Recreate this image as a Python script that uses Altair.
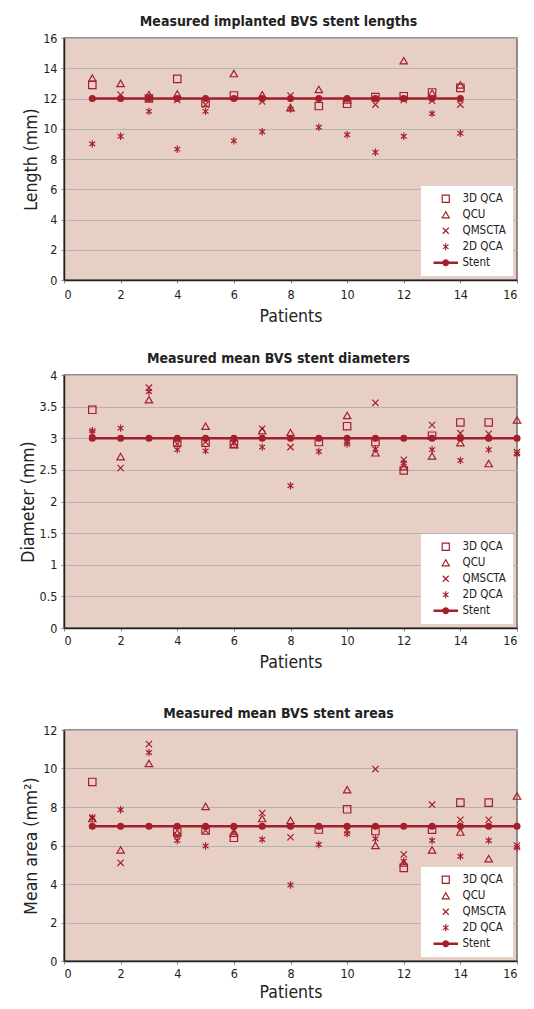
import altair as alt
import pandas as pd

RED = "#A41E2B"
BG = "#E8CFC6"
GRID = "#B3B3B3"
FONT = "Liberation Sans Narrow, DejaVu Sans Condensed, Roboto Condensed, Arial Narrow, sans-serif"

series_names = ["3D QCA", "QCU", "QMSCTA", "2D QCA"]
legend_order = ["3D QCA", "QCU", "QMSCTA", "2D QCA", "Stent"]

# ---- Panel 1: lengths (patients 1-14) ----
len_patients = [1, 2, 3, 4, 5, 6, 7, 8, 9, 10, 11, 12, 13, 14]
len_3dqca = [12.9, None, 12.0, 13.3, 11.7, 12.2, None, None, 11.5, 11.65, 12.1, 12.15, 12.4, 12.7]
len_qcu = [13.35, 13.0, 12.25, 12.3, None, 13.65, 12.25, 11.4, 12.6, 11.9, None, 14.5, 12.35, 12.9]
len_qmscta = [None, 12.25, None, 11.9, 11.6, None, 11.8, 12.2, None, None, 11.6, 11.9, 11.85, 11.6]
len_2dqca = [9.0, 9.5, 11.15, 8.65, 11.15, 9.2, 9.8, 11.3, 10.1, 9.6, 8.45, 9.5, 11.0, 9.7]
len_stent = [12, 12, 12, 12, 12, 12, 12, 12, 12, 12, 12, 12, 12, 12]

# ---- Panel 2: diameters (patients 1-16) ----
dia_patients = [1, 2, 3, 4, 5, 6, 7, 8, 9, 10, 11, 12, 13, 14, 15, 16]
dia_3dqca = [3.45, None, None, 2.93, 2.93, 2.91, None, None, 2.94, 3.19, 2.94, 2.49, 3.04, 3.25, 3.25, None]
dia_qcu = [None, 2.71, 3.61, None, 3.19, 2.9, 3.12, 3.09, None, 3.36, 2.77, 2.55, 2.72, 2.93, 2.6, 3.29]
dia_qmscta = [3.08, 2.53, 3.8, 2.91, 2.94, None, 3.15, 2.86, None, 2.95, 3.56, 2.66, 3.21, 3.08, 3.07, 2.78]
dia_2dqca = [3.12, 3.16, 3.74, 2.82, 2.8, 2.93, 2.86, 2.25, 2.79, 2.91, 2.83, 2.61, 2.82, 2.65, 2.82, 2.75]
dia_stent = [3, 3, 3, 3, 3, 3, 3, 3, 3, 3, 3, 3, 3, 3, 3, 3]

# ---- Panel 3: areas (patients 1-16) ----
area_patients = [1, 2, 3, 4, 5, 6, 7, 8, 9, 10, 11, 12, 13, 14, 15, 16]
area_3dqca = [9.3, None, None, 6.7, 6.78, 6.4, None, None, 6.83, 7.88, 6.75, 4.84, 6.82, 8.23, 8.23, None]
area_qcu = [7.4, 5.77, 10.26, 6.65, 8.03, 6.64, 7.4, 7.3, None, 8.9, 6.0, 5.1, 5.77, 6.7, 5.32, 8.57]
area_qmscta = [7.45, 5.1, 11.27, 6.52, 6.78, None, 7.69, 6.43, None, 6.78, 9.97, 5.53, 8.12, 7.34, 7.34, 6.0]
area_2dqca = [7.43, 7.86, 10.83, 6.26, 5.97, 6.78, 6.31, 3.95, 6.05, 6.61, 6.35, 5.18, 6.26, 5.44, 6.26, 5.9]
area_stent = [7, 7, 7, 7, 7, 7, 7, 7, 7, 7, 7, 7, 7, 7, 7, 7]

x_ticks = [0, 2, 4, 6, 8, 10, 12, 14, 16]

X_PATH = "M-0.85,-0.85L0.85,0.85M-0.85,0.85L0.85,-0.85"
AST_PATH = "M0,-1L0,1M-0.8,-0.6L0.8,0.6M-0.8,0.6L0.8,-0.6"
STENT_PATH = ("M-3.3,-0.18H3.3V0.18H-3.3Z"
              "M0.8,0A0.8,0.8,0,1,1,-0.8,0A0.8,0.8,0,1,1,0.8,0Z")
shape_range = ["square", "triangle-up", X_PATH, AST_PATH, STENT_PATH]
fill_range = ["transparent", "transparent", "transparent", "transparent", RED]
stroke_range = [RED, RED, RED, RED, RED]


def panel(title, patients, cols, stent, ytitle, ymax, ystep, height,
          x_label_pad, x_title_pad, title_line_height=None):
    rows = []
    for name, vals in zip(series_names, cols):
        for p, v in zip(patients, vals):
            if v is not None:
                rows.append({"patient": p, "series": name, "value": v})
    df = pd.DataFrame(rows)
    sdf = pd.DataFrame({"patient": patients, "value": stent})

    yvals = []
    t = 0.0
    while t <= ymax + 1e-9:
        yvals.append(round(t, 2))
        t += ystep

    x = alt.X("patient:Q", scale=alt.Scale(domain=[0, 16], nice=False),
              axis=alt.Axis(values=x_ticks, title="Patients", grid=False,
                            labelPadding=x_label_pad, titlePadding=x_title_pad))
    y = alt.Y("value:Q", scale=alt.Scale(domain=[0, ymax], nice=False),
              axis=alt.Axis(values=yvals, title=ytitle, grid=True, format="~g"))

    leg = alt.Legend(title=None, orient="bottom-right", offset=4,
                     fillColor="white", padding=7,
                     labelFont=FONT, labelFontSize=11.5,
                     labelColor="#222", labelOffset=11, symbolOffset=12,
                     symbolSize=50, symbolStrokeWidth=1.2,
                     rowPadding=3)

    pts = alt.Chart(df).mark_point(filled=False, size=55, strokeWidth=1.2,
                                   opacity=1).encode(
        x=x, y=y,
        shape=alt.Shape("series:N",
                        scale=alt.Scale(domain=legend_order, range=shape_range),
                        legend=leg),
        fill=alt.Fill("series:N",
                      scale=alt.Scale(domain=legend_order, range=fill_range),
                      legend=leg),
        stroke=alt.Stroke("series:N",
                          scale=alt.Scale(domain=legend_order, range=stroke_range),
                          legend=leg),
    )
    line = alt.Chart(sdf).mark_line(color=RED, strokeWidth=2.5).encode(x=x, y=y)
    dots = alt.Chart(sdf).mark_point(filled=True, shape="circle", size=50,
                                     color=RED, opacity=1).encode(x=x, y=y)

    if title_line_height is None:
        tp = alt.TitleParams(title, font=FONT, fontSize=14, fontWeight="bold",
                             color="#222", anchor="middle", offset=3, dx=-12)
    else:
        tp = alt.TitleParams(["", title], font=FONT, fontSize=14, fontWeight="bold",
                             color="#222", anchor="middle", offset=3, dx=-12,
                             lineHeight=title_line_height)
    return alt.layer(pts, line, dots).properties(width=453, height=height, title=tp)


p1 = panel("Measured implanted BVS stent lengths", len_patients,
           [len_3dqca, len_qcu, len_qmscta, len_2dqca], len_stent,
           "Length (mm)", 16, 2, 242, 5, 7)
p2 = panel("Measured mean BVS stent diameters", dia_patients,
           [dia_3dqca, dia_qcu, dia_qmscta, dia_2dqca], dia_stent,
           "Diameter (mm)", 4, 0.5, 253, 3, 7)
p3 = panel("Measured mean BVS stent areas", area_patients,
           [area_3dqca, area_qcu, area_qmscta, area_2dqca], area_stent,
           "Mean area (mm²)", 12, 2, 231, 3, 4, title_line_height=9)

chart = alt.vconcat(p1, p2, p3, spacing=25).resolve_scale(
    shape="independent", fill="independent", stroke="independent").resolve_legend(
    shape="independent", fill="independent", stroke="independent")

chart = chart.properties(
    padding={"left": 10, "top": 6, "right": 0, "bottom": 0}
).configure_view(
    fill=BG, stroke="#6B6B6B", strokeWidth=1.5
).configure_axis(
    labelFont=FONT, labelFontSize=12.5, labelColor="#222",
    titleFont=FONT, titleFontSize=17.5, titleFontWeight="normal", titleColor="#222",
    domainColor="#222", domainWidth=1.5, tickColor="#888", tickSize=3,
    gridColor=GRID, gridWidth=1.2, labelPadding=4,
).configure_axisY(
    titlePadding=2,
)

chart.save("out.html", embed_options={"renderer": "svg", "actions": False})
